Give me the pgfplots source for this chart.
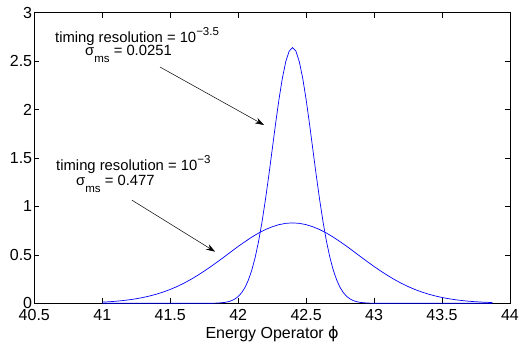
\documentclass[border=0pt]{standalone}
\usepackage{fontspec}
\setmainfont{Liberation Sans}
\newfontfamily\dejavu{DejaVu Sans}
\usepackage{pgfplots}
\pgfplotsset{compat=1.18}
\usetikzlibrary{arrows.meta}

\pgfplotstableread{
x y
41.00 0.0118
41.05 0.0159
41.10 0.0212
41.15 0.0280
41.20 0.0365
41.25 0.0471
41.30 0.0601
41.35 0.0759
41.40 0.0948
41.45 0.117
41.50 0.143
41.55 0.173
41.60 0.207
41.65 0.245
41.70 0.287
41.75 0.332
41.80 0.380
41.85 0.4305
41.90 0.482
41.95 0.535
42.00 0.587
42.05 0.636
42.10 0.683
42.15 0.725
42.20 0.761
42.25 0.790
42.30 0.812
42.35 0.8255
42.40 0.830
42.45 0.8255
42.50 0.812
42.55 0.790
42.60 0.761
42.65 0.725
42.70 0.683
42.75 0.636
42.80 0.587
42.85 0.535
42.90 0.482
42.95 0.4305
43.00 0.380
43.05 0.332
43.10 0.287
43.15 0.245
43.20 0.207
43.25 0.173
43.30 0.143
43.35 0.117
43.40 0.0948
43.45 0.0759
43.50 0.0601
43.55 0.0471
43.60 0.0365
43.65 0.0280
43.70 0.0212
43.75 0.0159
43.80 0.0118
43.87 0.0076
}\wide

\pgfplotstableread{
x y
41.00 0
41.70 0
41.80 0.0007
41.85 0.0027
41.90 0.0090
41.925 0.0157
41.95 0.0265
41.975 0.0435
42.00 0.0696
42.025 0.1080
42.05 0.1632
42.075 0.2394
42.10 0.341
42.125 0.473
42.15 0.638
42.175 0.836
42.20 1.064
42.225 1.316
42.25 1.583
42.275 1.851
42.30 2.103
42.325 2.323
42.35 2.494
42.375 2.603
42.40 2.640
42.425 2.603
42.45 2.494
42.475 2.323
42.50 2.103
42.525 1.851
42.55 1.583
42.575 1.316
42.60 1.064
42.625 0.836
42.65 0.638
42.675 0.473
42.70 0.341
42.725 0.2394
42.75 0.1632
42.775 0.1080
42.80 0.0696
42.825 0.0435
42.85 0.0265
42.875 0.0157
42.90 0.0090
42.95 0.0027
43.00 0.0007
43.10 0
43.87 0
}\narrow

\begin{document}
\begin{tikzpicture}
\begin{axis}[
  scale only axis,
  width=475.7pt, height=290.6pt,
  xmin=40.5, xmax=44, ymin=0, ymax=3,
  xtick={40.5,41,41.5,42,42.5,43,43.5,44},
  ytick={0,0.5,1,1.5,2,2.5,3},
  tick align=inside,
  major tick length=5pt,
  every tick/.style={black, line width=0.5pt},
  axis line style={line width=0.8pt},
  ticklabel style={font=\fontsize{16}{19}\selectfont},
  yticklabel style={inner sep=2pt},
  xticklabel style={anchor=base, yshift=-16.7pt},
  /pgf/number format/assume math mode=true,
  xlabel={Energy Operator {\dejavu ϕ}},
  xlabel style={font=\fontsize{16}{19}\selectfont, at={(axis description cs:0.5,0)}, anchor=base, yshift=-35pt},
  clip=false,
]
\addplot[blue, line width=0.7pt] table[x=x,y=y] {\narrow};
\addplot[blue, line width=0.7pt] table[x=x,y=y] {\wide};

\node[anchor=base west, inner sep=0, font=\fontsize{14.8}{17}\selectfont] at (axis cs:40.652,2.697) {timing resolution = 10\raisebox{7pt}{\fontsize{11.5}{13}\selectfont −3.5}};
\node[anchor=base west, inner sep=0, font=\fontsize{14.8}{17}\selectfont] at (axis cs:40.873,2.563) {σ\raisebox{-7.5pt}{\fontsize{11.5}{13}\selectfont ms} = 0.0251};
\draw[-{Stealth[length=9pt,width=6pt]}, line width=0.5pt] (axis cs:41.425,2.439) -- (axis cs:42.19,1.841);

\node[anchor=base west, inner sep=0, font=\fontsize{14.8}{17}\selectfont] at (axis cs:40.66,1.366) {timing resolution = 10\raisebox{7pt}{\fontsize{11.5}{13}\selectfont −3}};
\node[anchor=base west, inner sep=0, font=\fontsize{14.8}{17}\selectfont] at (axis cs:40.807,1.221) {σ\raisebox{-7.5pt}{\fontsize{11.5}{13}\selectfont ms} = 0.477};
\draw[-{Stealth[length=9pt,width=6pt]}, line width=0.5pt] (axis cs:41.217,1.066) -- (axis cs:41.83,0.533);
\end{axis}
\pgfresetboundingbox
\path[use as bounding box] (-34.3pt,-42.7pt) rectangle (484.7pt,303.3pt);
\end{tikzpicture}
\end{document}
